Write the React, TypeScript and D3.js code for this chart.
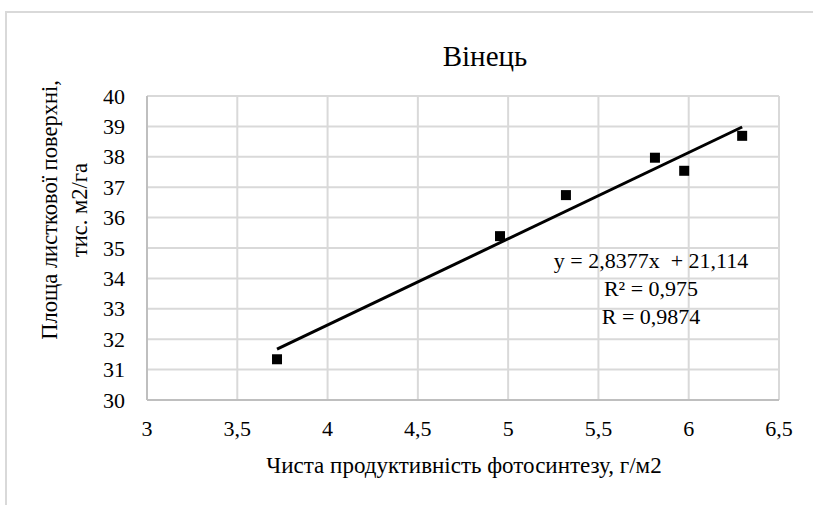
import React from 'react';
import * as d3 from 'd3';

// productivity (g/m2) vs leaf area (thousand m2/ha)
const xValues = [3.72, 4.955, 5.32, 5.813, 5.975, 6.296];
const yValues = [31.34, 35.39, 36.74, 37.97, 37.54, 38.69];
const xTicks = [3, 3.5, 4, 4.5, 5, 5.5, 6, 6.5];
const yTicks = [30, 31, 32, 33, 34, 35, 36, 37, 38, 39, 40];
const slope = 2.8377;
const intercept = 21.114;
const equationLines = ['y = 2,8377x  + 21,114', 'R² = 0,975', 'R = 0,9874'];

const W = 813;
const H = 505;
const margin = { left: 147, right: 34, top: 96, bottom: 105 };
const font = "'Liberation Serif', 'DejaVu Serif', 'Times New Roman', serif";
const fmt = (v: number) => String(v).replace('.', ',');

export default function App() {
  const x = d3.scaleLinear().domain([3, 6.5]).range([margin.left, W - margin.right]);
  const y = d3.scaleLinear().domain([30, 40]).range([H - margin.bottom, margin.top]);

  const xMin = d3.min(xValues) as number;
  const xMax = d3.max(xValues) as number;
  const trend = d3.line<number>()
    .x(d => x(d))
    .y(d => y(slope * d + intercept));

  const yMid = 210;
  const txt = { fontFamily: font, fill: '#000' };

  return (
    <svg width={W} height={H} style={{ position: 'absolute', left: 0, top: 0, background: '#fff' }}>
      <rect x={6} y={12} width={1000} height={700} fill="#fff" stroke="#d9d9d9" strokeWidth={2} />

      <text x={485} y={66} textAnchor="middle" fontSize={29} style={txt}>Вінець</text>

      {/* grid */}
      {yTicks.map(t => (
        <line key={'gy' + t} x1={x(3)} x2={x(6.5)} y1={y(t)} y2={y(t)} stroke="#d9d9d9" strokeWidth={2} />
      ))}
      {xTicks.map(t => (
        <line key={'gx' + t} x1={x(t)} x2={x(t)} y1={y(30)} y2={y(40)} stroke="#d9d9d9" strokeWidth={2} />
      ))}
      <line x1={x(3)} x2={x(6.5)} y1={y(30)} y2={y(30)} stroke="#bfbfbf" strokeWidth={2} />
      <line x1={x(3)} x2={x(3)} y1={y(30)} y2={y(40)} stroke="#bfbfbf" strokeWidth={2} />

      {/* tick labels */}
      {yTicks.map(t => (
        <text key={'ly' + t} x={125} y={y(t) + 7.5} textAnchor="end" fontSize={22} style={txt}>{t}</text>
      ))}
      {xTicks.map(t => (
        <text key={'lx' + t} x={x(t)} y={436} textAnchor="middle" fontSize={22} style={txt}>{fmt(t)}</text>
      ))}

      {/* axis titles */}
      <text x={464} y={473} textAnchor="middle" fontSize={23} style={txt}>
        Чиста продуктивність фотосинтезу, г/м2
      </text>
      <g transform={`translate(57, ${yMid}) rotate(-90)`}>
        <text x={0} y={0} textAnchor="middle" fontSize={22.5} style={txt}>Площа листкової поверхні,</text>
        <text x={0} y={30} textAnchor="middle" fontSize={22.5} style={txt}>тис. м2/га</text>
      </g>

      {/* trendline */}
      <path d={trend([xMin, xMax]) as string} fill="none" stroke="#000" strokeWidth={3} />

      {/* points */}
      {xValues.map((v, i) => (
        <rect key={'p' + i} x={x(v) - 5} y={y(yValues[i]) - 5} width={10} height={10} fill="#000" />
      ))}

      {/* equation */}
      {equationLines.map((s, i) => (
        <text key={'eq' + i} x={651} y={268 + i * 28} textAnchor="middle" fontSize={22}
          style={{ ...txt, whiteSpace: 'pre' }}>{s}</text>
      ))}
    </svg>
  );
}
